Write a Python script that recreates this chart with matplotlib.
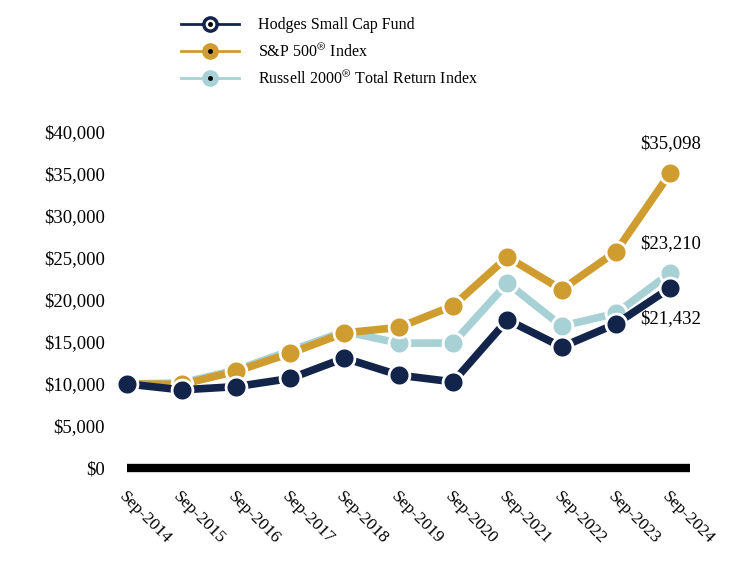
import matplotlib
matplotlib.use("Agg")
import matplotlib.pyplot as plt
from matplotlib.lines import Line2D
from matplotlib.ticker import FuncFormatter

years = ["Sep-2014", "Sep-2015", "Sep-2016", "Sep-2017", "Sep-2018", "Sep-2019",
         "Sep-2020", "Sep-2021", "Sep-2022", "Sep-2023", "Sep-2024"]
hodges = [10000, 9300, 9680, 10650, 13080, 11050, 10250, 17620, 14400, 17150, 21432]
sp500 = [10000, 9950, 11500, 13650, 16080, 16720, 19300, 25100, 21220, 25750, 35098]
russell = [10000, 10120, 11650, 13950, 16250, 14850, 14870, 22000, 16880, 18400, 23210]
labels = ["Hodges Small Cap Fund", "S&P 500$^{®}$ Index", "Russell 2000$^{®}$ Total Return Index"]
end_labels = ["$21,432", "$35,098", "$23,210"]

navy = "#13244B"
gold = "#CF9C2F"
lblue = "#A8D1D6"

plt.rcParams['font.family'] = ['Liberation Serif', 'DejaVu Serif']
plt.rcParams['mathtext.fontset'] = 'stix'

fig = plt.figure(figsize=(7.44, 5.88), dpi=100)
ax = fig.add_axes([0.171, 0.204, 0.757, 0.572])

x = list(range(len(years)))
for vals, col, z in [(russell, lblue, 2), (sp500, gold, 3), (hodges, navy, 4)]:
    ax.plot(x, vals, color=col, lw=5.5, marker='o', ms=15, mfc=col, mec='white',
            mew=2, zorder=z, clip_on=False, solid_capstyle='round')

ax.set_xlim(0.0, 10.37)
ax.set_ylim(0, 40000)
ax.set_yticks(range(0, 40001, 5000))
ax.yaxis.set_major_formatter(FuncFormatter(lambda v, p: f"${int(v):,}"))
ax.set_xticks(x)
ax.set_xticklabels(years, rotation=-45, ha='left', va='top', rotation_mode='anchor')
ax.tick_params(axis='both', length=0, labelsize=13.5)
ax.tick_params(axis='x', pad=15, labelsize=12.5)
ax.tick_params(axis='y', pad=16)
for s in ['top', 'right', 'left']:
    ax.spines[s].set_visible(False)
ax.spines['bottom'].set_linewidth(6)
ax.spines['bottom'].set_color('black')
ax.spines['bottom'].set_capstyle('butt')
ax.spines['bottom'].set_zorder(1)

# end labels
ax.annotate(end_labels[1], (x[-1], sp500[-1]), xytext=(0, 15), textcoords='offset points',
            ha='center', va='bottom', fontsize=13.5)
ax.annotate(end_labels[2], (x[-1], russell[-1]), xytext=(0, 15), textcoords='offset points',
            ha='center', va='bottom', fontsize=13.5)
ax.annotate(end_labels[0], (x[-1], hodges[-1]), xytext=(0, -16), textcoords='offset points',
            ha='center', va='top', fontsize=13.5)

# legend
def handle(col, inner_ring=False):
    base = Line2D([], [], color=col, lw=2, marker='o', ms=11, mfc=col, mec=col)
    dot = Line2D([], [], ls='none', marker='o', ms=2.5, mfc='black', mec='black')
    if inner_ring:
        ring = Line2D([], [], ls='none', marker='o', ms=6, mfc='white', mec='white')
        return (base, ring, dot)
    return (base, dot)

handles = [handle(navy, True), handle(gold), handle(lblue)]
fig.legend(handles, labels, loc='upper left', bbox_to_anchor=(0.224, 0.995),
           frameon=False, fontsize=11.5, handlelength=3.6, handletextpad=1.2,
           labelspacing=0.62)

fig.savefig("out.png", dpi=100)
